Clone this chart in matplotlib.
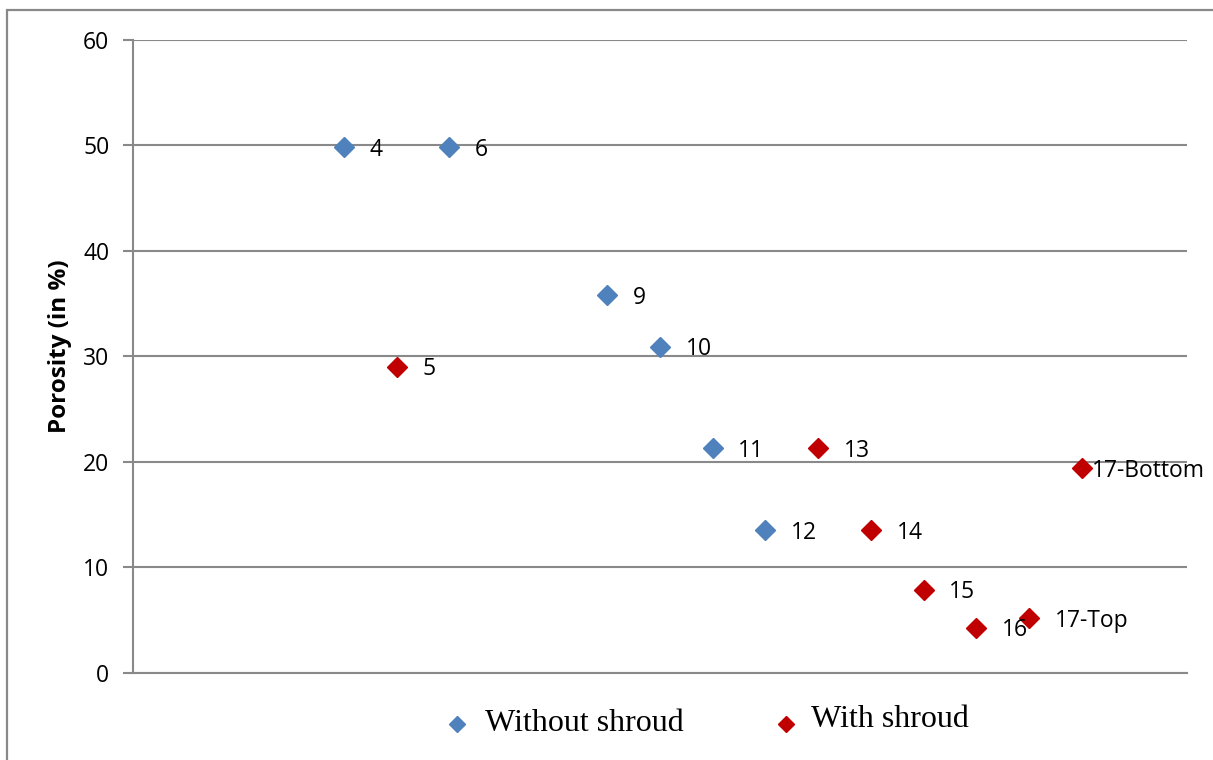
import matplotlib
matplotlib.use("Agg")
import matplotlib.pyplot as plt
from matplotlib.lines import Line2D
from matplotlib.patches import Rectangle

# Porosity measurements per sample
without_x = [4, 6, 9, 10, 11, 12]
without_y = [49.8, 49.8, 35.8, 30.9, 21.3, 13.5]
without_labels = ["4", "6", "9", "10", "11", "12"]

with_x = [5, 13, 14, 15, 16, 17, 18]
with_y = [29.0, 21.3, 13.5, 7.9, 4.3, 5.2, 19.4]
with_labels = ["5", "13", "14", "15", "16", "17-Top", "17-Bottom"]

y_ticks = [0, 10, 20, 30, 40, 50, 60]
series_names = ["Without shroud", "With shroud"]

BLUE = "#4F81BD"
RED = "#C00000"
GRID = "#898989"
SANS = "Open Sans"

W, H = 1213, 760
fig = plt.figure(figsize=(W / 100, H / 100), dpi=100)
ax = fig.add_axes([133 / W, 1 - 673 / H, (1187 - 133) / W, (673 - 39.5) / H])

# chart area border (left and top edges visible)
fig.patches.append(Rectangle((7 / W, -0.2), 1.5, 1.2 - 10 / H, transform=fig.transFigure,
                             fill=False, edgecolor=GRID, linewidth=1.6))

ax.set_xlim(0, 20)
ax.set_ylim(0, 60)
ax.set_yticks(y_ticks)
ax.set_xticks([])
ax.grid(axis="y", color=GRID, linewidth=1.5)
ax.set_axisbelow(True)
for side in ("top", "right"):
    ax.spines[side].set_visible(False)
for side in ("left", "bottom"):
    ax.spines[side].set_color(GRID)
    ax.spines[side].set_linewidth(1.5)
ax.tick_params(axis="y", length=7, width=1.5, color=GRID, pad=10,
               labelsize=16.5, labelfontfamily=SANS)

ax.plot(without_x, without_y, linestyle="none", marker="D", markersize=10,
        color=BLUE, zorder=3)
ax.plot(with_x, with_y, linestyle="none", marker="D", markersize=10,
        color=RED, zorder=3)

label_font = dict(fontsize=16.5, family=SANS, va="center", ha="left")
for x, y, t in zip(without_x, without_y, without_labels):
    ax.annotate(t, (x, y), xytext=(18.5, -1.8), textcoords="offset points", **label_font)
for x, y, t in zip(with_x, with_y, with_labels):
    off = (7.5, -2) if t == "17-Bottom" else (18.5, -1.8)
    ax.annotate(t, (x, y), xytext=off, textcoords="offset points",
                annotation_clip=False, **label_font)

ax.set_ylabel("Porosity (in %)", fontsize=17.5, fontweight="bold", family=SANS)
ax.yaxis.set_label_coords((72 - 133) / 1054, (673 - 346) / 633.5)

# legend below the plot area
legend_marks = [(457, 724, BLUE), (786, 724, RED)]
legend_text = [(485, 731), (811, 727)]
for (mx, my, c), (tx, ty), name in zip(legend_marks, legend_text, series_names):
    fig.add_artist(Line2D([mx / W], [1 - my / H], transform=fig.transFigure,
                          linestyle="none", marker="D", markersize=8.5, color=c))
    fig.text(tx / W, 1 - ty / H, name, family="Liberation Serif", fontsize=23,
             va="baseline", ha="left")

fig.savefig("out.png", dpi=100)
